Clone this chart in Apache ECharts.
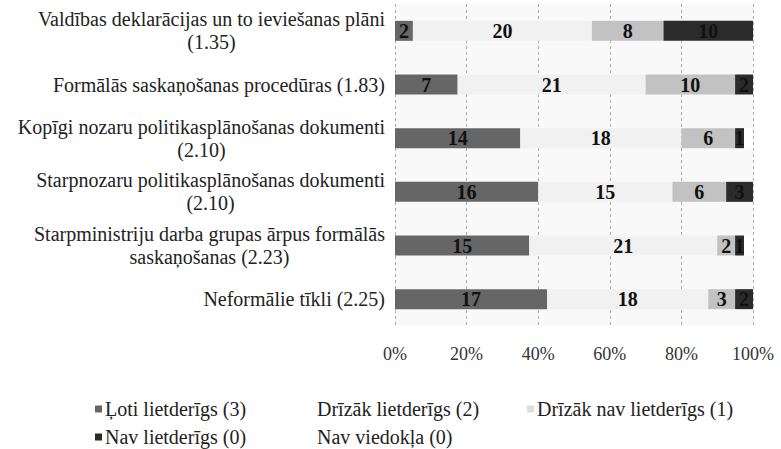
<!DOCTYPE html>
<html>
<head>
<meta charset="utf-8">
<script src="https://cdn.jsdelivr.net/npm/echarts@6/dist/echarts.min.js"></script>
<style>
html,body{margin:0;padding:0;background:#fff;}
#chart{width:781px;height:449px;}
</style>
</head>
<body>
<div id="chart"></div>
<script>
// Categories (top to bottom)
const categories = [
  "Valdības deklarācijas un to ieviešanas plāni\n(1.35)",
  "Formālās saskaņošanas procedūras (1.83)",
  "Kopīgi nozaru politikasplānošanas dokumenti\n(2.10)",
  "Starpnozaru politikasplānošanas dokumenti\n(2.10)",
  "Starpministriju darba grupas ārpus formālās\nsaskaņošanas (2.23)",
  "Neformālie tīkli (2.25)"
];
// Series names
const seriesNames = ["Ļoti lietderīgs (3)", "Drīzāk lietderīgs (2)", "Drīzāk nav lietderīgs (1)", "Nav lietderīgs (0)", "Nav viedokļa (0)"];
// Respondent counts per category
const lotiLietderigs   = [2, 7, 14, 16, 15, 17];
const drizakLietderigs = [20, 21, 18, 15, 21, 18];
const drizakNav        = [8, 10, 6, 6, 2, 3];
const navLietderigs    = [10, 2, 1, 3, 1, 2];
const navViedokla      = [0, 0, 1, 0, 1, 0];
// Total respondents (100%)
const total = 40;
// Tick labels
const tickLabels = ["0%", "20%", "40%", "60%", "80%", "100%"];

const seriesData = [lotiLietderigs, drizakLietderigs, drizakNav, navLietderigs, navViedokla];
const colors = ["#666666", "#f1f1f1", "#c2c2c2", "#2b2b2b", "#ffffff"];
const legendColors = ["#666666", "#ffffff", "#dddddd", "#2b2b2b", "#ffffff"];
const serif = "'Liberation Serif', 'Times New Roman', serif";

const chart = echarts.init(document.getElementById('chart'), null, { renderer: 'svg' });

const series = seriesData.map((d, i) => ({
  name: seriesNames[i],
  type: 'bar',
  stack: 'total',
  barWidth: 20,
  data: d,
  itemStyle: { color: colors[i] },
  label: {
    show: i < 4,
    position: 'inside',
    color: '#111',
    fontFamily: serif,
    fontWeight: 'bold',
    fontSize: 20,
    formatter: p => (p.value > 0 ? String(p.value) : '')
  },
  emphasis: { disabled: true }
}));

const legendPos = [
  { left: 90, top: 394 },
  { left: 302, top: 394 },
  { left: 522, top: 394 },
  { left: 90, top: 422 },
  { left: 302, top: 422 }
];
const legends = seriesNames.map((n, i) => ({
  data: [{ name: n, itemStyle: { color: legendColors[i] } }],
  left: legendPos[i].left,
  top: legendPos[i].top,
  icon: 'rect',
  itemWidth: 7,
  itemHeight: 7,
  itemGap: 4,
  selectedMode: false,
  textStyle: { fontFamily: serif, fontSize: 20, color: '#222', padding: [0, 0, 0, -2] }
}));

chart.setOption({
  animation: false,
  backgroundColor: '#ffffff',
  textStyle: { fontFamily: serif },
  legend: legends,
  grid: {
    left: 395, right: 28, top: 4, bottom: 123,
    show: true, backgroundColor: '#f9f9f9', borderWidth: 0
  },
  xAxis: {
    type: 'value',
    min: 0, max: total, interval: total / 5,
    axisLine: { show: false },
    axisTick: { show: false },
    splitLine: { show: true, lineStyle: { color: '#aaa', type: [3, 3], width: 1 } },
    axisLabel: {
      margin: 19,
      fontFamily: serif, fontSize: 18, color: '#333',
      formatter: v => tickLabels[Math.round(v / (total / 5))]
    }
  },
  yAxis: {
    type: 'category',
    inverse: true,
    data: categories,
    axisLine: { show: false },
    axisTick: { show: false },
    axisLabel: {
      margin: 10,
      align: 'right',
      fontFamily: serif, fontSize: 20, color: '#222',
      lineHeight: 23,
      formatter: v => v.split('\n').map(l => '{c|' + l + '}').join('\n'),
      rich: { c: { align: 'center', fontFamily: serif, fontSize: 20, color: '#222', lineHeight: 23 } }
    }
  },
  series: series
});
</script>
</body>
</html>
